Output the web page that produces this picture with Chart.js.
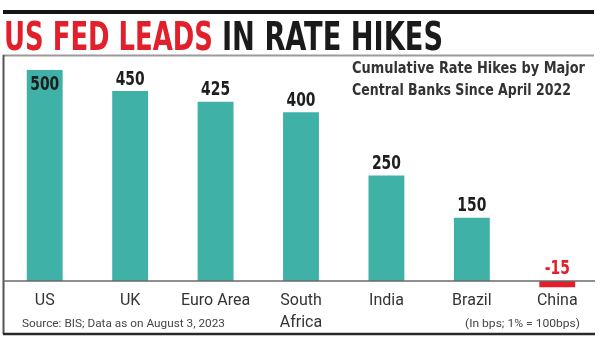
<!DOCTYPE html>
<html>
<head>
<meta charset="utf-8">
<script src="https://cdn.jsdelivr.net/npm/chart.js@4.4.0/dist/chart.umd.min.js"></script>
<style>
  html, body { margin: 0; padding: 0; background: #fff; }
  #wrap { width: 600px; height: 341px; position: relative; }
</style>
</head>
<body>
<div id="wrap"><canvas id="hikes" width="600" height="341"></canvas></div>
<script>
// datos (bps acumulados desde abril 2022)
const countries = ['US', 'UK', 'Euro Area', ['South', 'Africa'], 'India', 'Brazil', 'China'];
const hikes = [500, 450, 425, 400, 250, 150, -15];

const titleRed = 'US FED LEADS';
const titleBlack = 'IN RATE HIKES';
const subtitleLines = ['Cumulative Rate Hikes by Major', 'Central Banks Since April 2022'];
const sourceNote = 'Source: BIS; Data as on August 3, 2023';
const unitNote = '(In bps; 1% = 100bps)';

const TEAL = '#40b1a7';
const RED = '#e2202c';
const NARROW = "'Liberation Sans Narrow', 'DejaVu Sans Condensed', sans-serif";

// texto ajustado a un ancho fijo (fuente condensada del original)
function fitText(c, text, x, y, width) {
    const w = c.measureText(text).width;
    c.save();
    c.translate(x, y);
    c.scale(width / w, 1);
    c.fillText(text, 0, 0);
    c.restore();
}

const decorPlugin = {
    id: 'decor',
    beforeDraw: (chart) => {
        const c = chart.ctx;
        c.save();
        // regla negra superior
        c.fillStyle = '#151515';
        c.fillRect(3, 10, 591, 4);

        // título
        c.textBaseline = 'alphabetic';
        c.textAlign = 'left';
        c.font = `bold 39px ${NARROW}`;
        c.fillStyle = RED;
        fitText(c, titleRed, 4, 50, 209);
        c.fillStyle = '#1a1a1a';
        fitText(c, titleBlack, 222, 50, 221);

        // marco
        c.strokeStyle = '#9a9a9a';
        c.lineWidth = 2;
        c.beginPath();
        c.moveTo(3, 55.5);
        c.lineTo(594, 55.5);
        c.stroke();
        c.strokeStyle = '#555';
        c.beginPath();
        c.moveTo(3.5, 55);
        c.lineTo(3.5, 334);
        c.stroke();
        c.strokeStyle = '#2a2a2a';
        c.lineWidth = 2.5;
        c.beginPath();
        c.moveTo(3, 334);
        c.lineTo(595, 334);
        c.stroke();

        // subtítulo
        c.font = `bold 15px ${NARROW}`;
        c.fillStyle = '#333';
        fitText(c, subtitleLines[0], 352, 73, 233);
        fitText(c, subtitleLines[1], 352, 95, 219);

        // notas al pie
        c.font = "11px 'Roboto', sans-serif";
        c.fillStyle = '#444';
        fitText(c, sourceNote, 22, 327, 203);
        fitText(c, unitNote, 465, 327, 115);
        c.restore();
    },
    afterDatasetsDraw: (chart) => {
        const c = chart.ctx;
        const y = chart.scales.y;
        const zero = y.getPixelForValue(0);
        c.save();
        // línea base en cero
        c.strokeStyle = '#6a6a6a';
        c.lineWidth = 1.5;
        c.beginPath();
        c.moveTo(3, zero);
        c.lineTo(595, zero);
        c.stroke();

        // etiquetas de valor (condensadas como en el original)
        c.font = `bold 20px ${NARROW}`;
        c.textAlign = 'left';
        c.textBaseline = 'middle';
        const sx = 29 / c.measureText('450').width;
        chart.getDatasetMeta(0).data.forEach((bar, i) => {
            const v = hikes[i];
            const txt = String(v);
            let ty;
            if (v < 0) ty = zero - 12;
            else if (bar.y - 26 < 56) ty = bar.y + 14.5;
            else ty = bar.y - 11.5;
            const w = c.measureText(txt).width * sx;
            c.fillStyle = v < 0 ? RED : '#1e1e1e';
            fitText(c, txt, bar.x - w / 2, ty, w);
        });
        c.restore();
    },
};

new Chart(document.getElementById('hikes'), {
    type: 'bar',
    data: {
        labels: countries,
        datasets: [{
            data: hikes,
            backgroundColor: hikes.map(v => v < 0 ? RED : TEAL),
            borderWidth: 0,
            barPercentage: 0.42,
            categoryPercentage: 1,
        }],
    },
    options: {
        responsive: false,
        animation: false,
        devicePixelRatio: 1,
        layout: { padding: { left: 2, right: 0, top: 61.56, bottom: 0 } },
        plugins: {
            legend: { display: false },
            tooltip: { enabled: false },
        },
        scales: {
            x: {
                grid: { display: false, drawTicks: false },
                border: { display: false },
                afterFit: (scale) => { scale.height = 51.56; },
                ticks: {
                    autoSkip: false,
                    maxRotation: 0,
                    padding: 0,
                    color: '#333',
                    font: { family: "'Roboto', sans-serif", size: 16, lineHeight: 1.4 },
                },
            },
            y: {
                display: false,
                min: -20,
                max: 520,
            },
        },
    },
    plugins: [decorPlugin],
});
</script>
</body>
</html>
